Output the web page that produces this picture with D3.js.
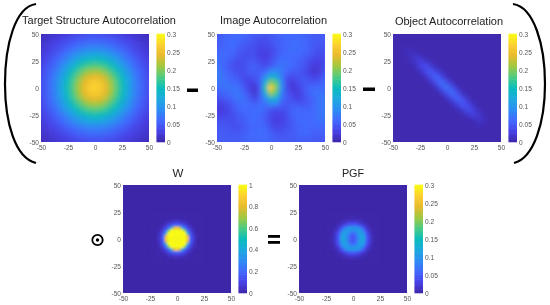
<!DOCTYPE html>
<html><head><meta charset="utf-8">
<script src="https://cdn.jsdelivr.net/npm/d3@7/dist/d3.min.js"></script>
<style>html,body{margin:0;padding:0;background:#fff}svg{display:block}text{font-family:"Liberation Sans",Arial,sans-serif}</style>
</head><body><svg id="c" width="550" height="305"></svg>
<script>
// All grid values are in thousandths of the plotted quantity.
const axisTicks=[-50,-25,0,25,50];
const smallBarTicks=[0,0.05,0.1,0.15,0.2,0.25,0.3];
const unitBarTicks=[0,0.2,0.4,0.6,0.8,1];
const parulaStops=["#3e26a8","#4742e6","#4269fe","#2d8cf3","#1ca9df","#0bbdbc","#4acb84","#9dc942","#e6bb2d","#fccf30","#f9fb15"];

// quadrant rows: first row y=0, first column x=0, step 5 units
const targetQuadrant=[
[275,265,245,215,185,155,125,95,72,53,40],
[265,258,238,210,181,152,123,93,71,52,39],
[245,238,223,197,171,143,115,89,67,50,38],
[215,210,197,178,155,130,104,81,62,47,35],
[185,181,171,155,135,113,91,71,54,42,31],
[155,152,143,130,113,93,76,62,47,36,27],
[125,123,115,104,91,76,63,50,40,30,23],
[95,93,89,81,71,62,50,41,33,26,20],
[72,71,67,62,54,47,40,33,27,22,17],
[53,52,50,47,42,36,30,26,22,17,13],
[40,39,38,35,31,27,23,20,17,13,10]];

// rows from y=50 down to y=-50, columns from x=-50 to x=50, step 5 units
const imageGrid=[
[45,50,55,60,60,60,55,50,50,45,50,55,60,60,60,60,55,55,50,50,50],
[50,55,60,60,60,55,50,45,40,40,45,50,55,60,60,60,60,55,50,50,50],
[50,55,60,65,55,50,45,40,35,35,40,50,55,60,65,65,60,55,50,45,45],
[55,60,60,60,50,45,40,40,30,30,35,45,55,60,65,60,60,55,45,40,45],
[60,60,60,55,45,40,40,40,30,25,35,45,60,60,60,60,55,50,40,35,40],
[65,60,55,45,40,40,45,45,35,30,40,55,65,65,60,55,50,40,30,30,40],
[70,60,50,40,35,40,50,55,45,40,50,65,70,65,60,55,45,35,25,25,40],
[75,65,55,45,40,40,50,50,50,60,90,90,75,60,50,50,40,30,20,25,45],
[75,70,60,55,45,35,40,45,55,95,130,125,75,45,35,45,45,40,30,35,55],
[70,70,65,60,55,40,30,30,55,130,200,180,90,35,25,35,45,45,45,50,60],
[60,65,70,70,65,50,30,20,50,160,270,200,95,40,20,30,45,55,60,60,65],
[50,55,60,70,70,60,40,20,50,130,210,175,80,45,30,25,40,55,65,70,70],
[40,45,50,60,70,65,50,35,55,90,135,125,70,50,40,30,40,50,60,70,75],
[30,30,40,50,60,65,60,55,60,70,85,85,55,45,50,45,45,50,60,70,75],
[25,25,30,45,55,60,60,60,65,55,45,40,40,45,55,60,55,55,60,70,75],
[30,30,35,40,50,55,60,65,60,50,35,30,30,40,55,60,60,60,60,70,75],
[40,40,40,40,45,50,60,60,60,50,35,25,30,40,50,60,60,60,60,65,70],
[45,45,45,40,40,50,55,60,60,55,40,30,35,40,50,55,60,60,60,60,60],
[50,50,45,45,45,50,55,60,65,60,50,40,40,45,50,55,60,60,55,55,55],
[50,50,50,50,50,55,60,60,60,60,55,50,45,50,50,55,55,55,50,50,50],
[50,50,50,50,50,55,55,55,60,60,55,50,50,50,50,50,50,50,50,45,45]];

const objectGrid=[
[4,4,4,4,4,4,4,4,4,4,4,4,4,4,4,4,4,4,4,4,4],
[4,4,4,4,4,4,4,4,4,4,4,4,4,4,4,4,4,4,4,4,4],
[4,4,4,4,4,4,4,4,4,4,4,4,4,4,4,4,4,4,4,4,4],
[4,4,6,8,6,4,4,4,4,4,4,4,4,4,4,4,4,4,4,4,4],
[4,4,5,10,16,10,5,4,4,4,4,4,4,4,4,4,4,4,4,4,4],
[4,4,4,7,17,28,17,7,4,4,4,4,4,4,4,4,4,4,4,4,4],
[4,4,4,4,9,24,40,24,9,4,4,4,4,4,4,4,4,4,4,4,4],
[4,4,4,4,4,11,30,50,30,11,4,4,4,4,4,4,4,4,4,4,4],
[4,4,4,4,4,4,12,35,58,35,12,4,4,4,4,4,4,4,4,4,4],
[4,4,4,4,4,4,4,13,39,65,39,13,4,4,4,4,4,4,4,4,4],
[4,4,4,4,4,4,4,4,14,42,70,42,14,4,4,4,4,4,4,4,4],
[4,4,4,4,4,4,4,4,4,13,39,65,39,13,4,4,4,4,4,4,4],
[4,4,4,4,4,4,4,4,4,4,12,35,58,35,12,4,4,4,4,4,4],
[4,4,4,4,4,4,4,4,4,4,4,11,30,50,30,11,4,4,4,4,4],
[4,4,4,4,4,4,4,4,4,4,4,4,9,24,40,24,9,4,4,4,4],
[4,4,4,4,4,4,4,4,4,4,4,4,4,7,17,28,17,7,4,4,4],
[4,4,4,4,4,4,4,4,4,4,4,4,4,4,5,10,16,10,5,4,4],
[4,4,4,4,4,4,4,4,4,4,4,4,4,4,4,6,8,6,4,4,4],
[4,4,4,4,4,4,4,4,4,4,4,4,4,4,4,4,4,4,4,4,4],
[4,4,4,4,4,4,4,4,4,4,4,4,4,4,4,4,4,4,4,4,4],
[4,4,4,4,4,4,4,4,4,4,4,4,4,4,4,4,4,4,4,4,4]];

// quadrant rows: first row y=0, first column x=0, step 2.5 units
const weightQuadrant=[
[1000,1000,1000,1000,900,200,90,25,5,0,0],
[1000,1000,1000,1000,800,190,85,24,5,0,0],
[1000,1000,1000,1000,420,150,60,18,4,0,0],
[1000,1000,1000,650,200,110,40,12,3,0,0],
[900,800,420,200,125,55,20,5,1,0,0],
[200,190,150,110,55,24,7,2,0,0,0],
[90,85,60,40,20,7,3,1,0,0,0],
[25,24,18,12,5,2,1,0,0,0,0],
[5,5,4,3,1,0,0,0,0,0,0],
[0,0,0,0,0,0,0,0,0,0,0],
[0,0,0,0,0,0,0,0,0,0,0]];

const pgfQuadrant=[
[45,58,92,115,128,62,32,11,3,0,0],
[45,58,92,112,118,58,30,10,3,0,0],
[62,75,100,112,103,50,25,8,2,0,0],
[95,100,106,108,76,36,16,5,1,0,0],
[108,106,100,76,47,22,9,3,1,0,0],
[56,52,45,34,22,11,4,1,0,0,0],
[29,27,22,15,8,4,2,0,0,0,0],
[10,9,7,5,3,1,0,0,0,0,0],
[3,3,2,1,0,0,0,0,0,0,0],
[0,0,0,0,0,0,0,0,0,0,0],
[0,0,0,0,0,0,0,0,0,0,0]];

// the pictures are symmetric about both axes: unfold one quadrant into a full grid
function unfold(q){
  const rows=q.map(r=>[...r.slice(1).reverse(),...r]);
  return [...rows.slice(1).reverse(),...rows];
}

const parula=d3.piecewise(d3.interpolateRgb,parulaStops);
const svg=d3.select("#c");
const defs=svg.append("defs");
[["b24",2.3],["b11",0.95],["b08",0.8],["t",0.28]].forEach(([id,s])=>{
  defs.append("filter").attr("id",id).attr("x","-30%").attr("y","-30%").attr("width","160%").attr("height","160%")
    .append("feGaussianBlur").attr("stdDeviation",s);
});

const panels=[
 {id:"p1",title:"Target Structure Autocorrelation",grid:unfold(targetQuadrant),extent:50,max:300,ticks:smallBarTicks,x:41,y:34,tx:99,ty:24,blur:"b24",fs:10.95},
 {id:"p2",title:"Image Autocorrelation",grid:imageGrid,extent:50,max:300,ticks:smallBarTicks,x:217,y:34,tx:273.5,ty:24,blur:"b24",fs:11},
 {id:"p3",title:"Object Autocorrelation",grid:objectGrid,extent:50,max:300,ticks:smallBarTicks,x:393,y:34,tx:449,ty:25,blur:"b24",fs:11},
 {id:"p4",title:"W",grid:unfold(weightQuadrant),extent:25,max:1000,ticks:unitBarTicks,x:123,y:185,tx:178,ty:177,blur:"b08",fs:11.5},
 {id:"p5",title:"PGF",grid:unfold(pgfQuadrant),extent:25,max:300,ticks:smallBarTicks,x:299,y:185,tx:353,ty:177,blur:"b11",fs:10.8}
];
const size=108, barGap=7.5, barW=8.5;
const tickFont='"Liberation Sans",Arial,sans-serif';

panels.forEach(p=>{
  const g=svg.append("g").attr("transform",`translate(${p.x},${p.y})`);
  const x=d3.scaleLinear().domain([-50,50]).range([0,size]);
  const y=d3.scaleLinear().domain([-50,50]).range([size,0]);
  const color=d3.scaleSequential(parula).domain([0,p.max]);
  defs.append("clipPath").attr("id","clip"+p.id).append("rect").attr("width",size).attr("height",size);
  const clip=g.append("g").attr("clip-path",`url(#clip${p.id})`);
  clip.append("rect").attr("width",size).attr("height",size).attr("fill",color(0));
  const n=p.grid.length, step=2*p.extent/(n-1);
  const full=p.extent===50;
  const cells=p.grid.flatMap((row,r)=>row.map((v,c)=>({r,c,v})));
  const lo=(c)=>-p.extent+c*step-step/2, hi=(c)=>-p.extent+c*step+step/2;
  const blurred=clip.append("g").attr("filter",`url(#${p.blur})`);
  blurred.selectAll("rect").data(cells).join("rect")
    .attr("x",d=>x(full&&d.c===0?-70:lo(d.c))-0.25)
    .attr("width",d=>x(full&&d.c===n-1?70:hi(d.c))-x(full&&d.c===0?-70:lo(d.c))+0.5)
    .attr("y",d=>y(full&&d.r===0?70:p.extent-d.r*step+step/2)-0.25)
    .attr("height",d=>y(full&&d.r===n-1?-70:p.extent-d.r*step-step/2)-y(full&&d.r===0?70:p.extent-d.r*step+step/2)+0.5)
    .attr("fill",d=>color(d.v));

  const tg=g.append("g").attr("filter","url(#t)");
  const ax=tg.append("g").attr("transform",`translate(0,${size})`).call(d3.axisBottom(x).tickValues(axisTicks).tickFormat(d=>String(d)).tickSize(0).tickPadding(3));
  const ay=tg.append("g").call(d3.axisLeft(y).tickValues(axisTicks).tickFormat(d=>String(d)).tickSize(0).tickPadding(2));
  [ax,ay].forEach(a=>{a.select(".domain").remove();a.selectAll("text").attr("fill","#555").attr("font-size",6.6).attr("font-family",tickFont);});

  // colorbar
  const barY=d3.scaleLinear().domain([0,p.max/1000]).range([size,0]);
  const bar=g.append("g").attr("transform",`translate(${size+barGap},0)`);
  const levels=d3.range(0,64);
  bar.selectAll("rect").data(levels).join("rect")
    .attr("width",barW)
    .attr("y",l=>barY((l+1)/64*p.max/1000)-0.3)
    .attr("height",l=>barY(l/64*p.max/1000)-barY((l+1)/64*p.max/1000)+0.6)
    .attr("fill",l=>color((l+0.5)/64*p.max));
  const ab=tg.append("g").attr("transform",`translate(${size+barGap+barW},0)`).call(d3.axisRight(barY).tickValues(p.ticks).tickFormat(d=>String(d)).tickSize(0).tickPadding(2));
  ab.select(".domain").remove();
  ab.selectAll("text").attr("fill","#555").attr("font-size",6.6).attr("font-family",tickFont);

  svg.append("text").attr("x",p.tx).attr("y",p.ty).attr("text-anchor","middle").attr("font-size",p.fs).attr("fill","#222").attr("filter","url(#t)").text(p.title);
});

// equation symbols
const sym=svg.append("g").attr("filter","url(#t)");
sym.append("path").attr("d","M36,4 C15,7 5,45 5,84 C5,122 15,158 36,163").attr("fill","none").attr("stroke","#000").attr("stroke-width",2.2);
sym.append("path").attr("d","M513,4 C534,7 545,45 545,84 C545,122 534,158 514,163").attr("fill","none").attr("stroke","#000").attr("stroke-width",2.2);
[[187,88.5,11,3.5],[363,87.5,12,3.5],[268,235,12,2.8],[268,241,12,2.8]].forEach(([a,b,w,h])=>sym.append("rect").attr("x",a).attr("y",b).attr("width",w).attr("height",h).attr("fill","#000"));
sym.append("circle").attr("cx",97.5).attr("cy",240).attr("r",5.2).attr("fill","none").attr("stroke","#000").attr("stroke-width",1.8);
sym.append("circle").attr("cx",97.5).attr("cy",240).attr("r",1.7).attr("fill","#000");
</script></body></html>
